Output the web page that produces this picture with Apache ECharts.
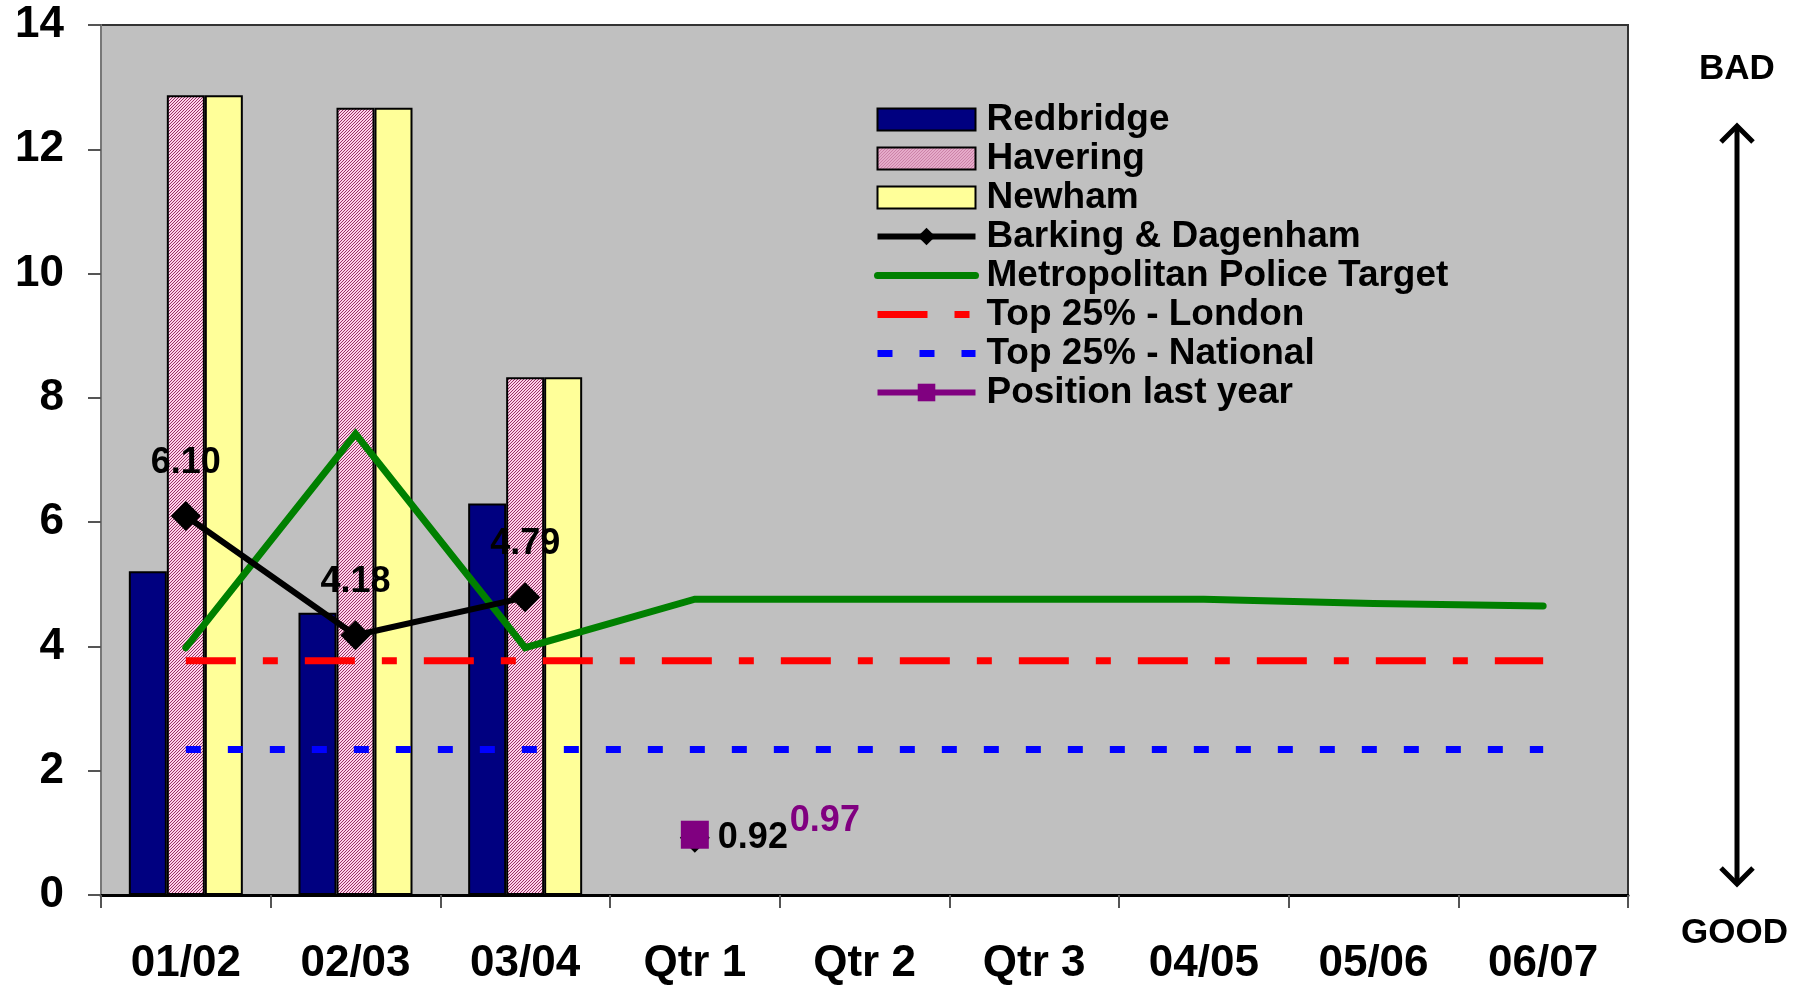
<!DOCTYPE html>
<html><head><meta charset="utf-8">
<script src="https://cdn.jsdelivr.net/npm/echarts@6/dist/echarts.min.js"></script>
<style>html,body{margin:0;padding:0;background:#fff}#c{width:1807px;height:986px}</style>
</head><body><div id="c"></div>
<script>
const categories = ['01/02','02/03','03/04','Qtr 1','Qtr 2','Qtr 3','04/05','05/06','06/07'];
const yTicks = [0, 14, 2];
const redbridge = [5.21, 4.54, 6.30, null, null, null, null, null, null];
const havering  = [12.87, 12.67, 8.33, null, null, null, null, null, null];
const newham    = [12.87, 12.67, 8.33, null, null, null, null, null, null];
const barkingDagenham = [6.10, 4.18, 4.79, null, null, null, null, null, null];
const barkingDagenhamQtr = [null, null, null, 0.92, null, null, null, null, null];
const metTarget = [3.98, 7.42, 3.98, 4.76, 4.76, 4.76, 4.76, 4.69, 4.65];
const top25London   = [3.77, 3.77, 3.77, 3.77, 3.77, 3.77, 3.77, 3.77, 3.77];
const top25National = [2.34, 2.34, 2.34, 2.34, 2.34, 2.34, 2.34, 2.34, 2.34];
const positionLastYear = [null, null, null, 0.97, null, null, null, null, null];

const FONT = "'Liberation Sans', Arial, sans-serif";

function hatch() {
  const c = document.createElement('canvas');
  c.width = 3; c.height = 3;
  const g = c.getContext('2d');
  g.fillStyle = '#ffd2ea'; g.fillRect(0, 0, 3, 3);
  g.fillStyle = '#993366';
  for (let y = 0; y < 3; y++) for (let x = 0; x < 3; x++) if ((x + y) % 3 === 2) g.fillRect(x, y, 1, 1);
  return c;
}
const hatchPattern = { image: hatch(), repeat: 'repeat' };

const LONDON_DASH = [50, 27, 15, 27];
const NATIONAL_DASH = [15, 27];

const chart = echarts.init(document.getElementById('c'), null, { renderer: 'canvas' });
const barBase = { type: 'bar', barWidth: 38, barGap: '0%', itemStyle: { borderColor: '#000', borderWidth: 2 } };

chart.setOption({
  animation: false,
  textStyle: { fontFamily: FONT },
  grid: { left: 101, right: 179, top: 25, bottom: 86, show: true, backgroundColor: '#c0c0c0', borderColor: '#333', borderWidth: 2 },
  legend: {
    orient: 'vertical', left: 874, top: 101, padding: 0,
    itemWidth: 98, itemHeight: 22, itemGap: 2, selectedMode: false,
    textStyle: { fontFamily: FONT, fontSize: 37, fontWeight: 'bold', color: '#000', lineHeight: 30, padding: [0, 0, 0, 6] },
    lineStyle: { width: 'inherit' },
    data: [
      { name: 'Redbridge', icon: 'rect' },
      { name: 'Havering', icon: 'rect' },
      { name: 'Newham', icon: 'rect' },
      { name: 'Barking & Dagenham', lineStyle: { width: 6 } },
      { name: 'Metropolitan Police Target', itemStyle: { opacity: 0 }, lineStyle: { width: 7, cap: 'round' } },
      { name: 'Top 25% - London', itemStyle: { opacity: 0 }, lineStyle: { width: 7, type: LONDON_DASH } },
      { name: 'Top 25% - National', itemStyle: { opacity: 0 }, lineStyle: { width: 7, type: NATIONAL_DASH } },
      { name: 'Position last year', lineStyle: { width: 6 } }
    ]
  },
  xAxis: {
    type: 'category', data: categories, boundaryGap: true,
    axisLine: { lineStyle: { color: '#000', width: 3 } },
    axisTick: { show: true, length: 13, lineStyle: { color: '#555', width: 2 } },
    axisLabel: { fontFamily: FONT, fontSize: 44, fontWeight: 'bold', color: '#000', margin: 47, interval: 0 },
    splitLine: { show: false }
  },
  yAxis: {
    type: 'value', min: yTicks[0], max: yTicks[1], interval: yTicks[2],
    axisLine: { show: true, lineStyle: { color: '#777', width: 2 } },
    axisTick: { show: true, length: 13, lineStyle: { color: '#555', width: 2 } },
    axisLabel: { fontFamily: FONT, fontSize: 44, fontWeight: 'bold', color: '#000', margin: 37 },
    splitLine: { show: false }
  },
  series: [
    Object.assign({}, barBase, { name: 'Redbridge', data: redbridge, itemStyle: { color: '#000080', borderColor: '#000', borderWidth: 2 } }),
    Object.assign({}, barBase, { name: 'Havering', data: havering, itemStyle: { color: hatchPattern, borderColor: '#000', borderWidth: 2 } }),
    Object.assign({}, barBase, { name: 'Newham', data: newham, itemStyle: { color: '#ffff99', borderColor: '#000', borderWidth: 2 } }),
    { name: 'Top 25% - London', type: 'line', data: top25London, symbol: 'none', z: 3,
      itemStyle: { color: '#ff0000' }, lineStyle: { color: '#ff0000', width: 7, type: LONDON_DASH, cap: 'butt' } },
    { name: 'Top 25% - National', type: 'line', data: top25National, symbol: 'none', z: 3,
      itemStyle: { color: '#0000ff' }, lineStyle: { color: '#0000ff', width: 7, type: NATIONAL_DASH, cap: 'butt' } },
    { name: 'Metropolitan Police Target', type: 'line', data: metTarget, symbol: 'none', z: 4,
      itemStyle: { color: '#008000' }, lineStyle: { color: '#008000', width: 7, cap: 'round', join: 'miter' } },
    { name: 'Barking & Dagenham', type: 'line', data: barkingDagenham, symbol: 'diamond', symbolSize: 30, z: 5,
      itemStyle: { color: '#000' }, lineStyle: { color: '#000', width: 6 },
      label: { show: true, position: 'top', distance: 20, fontFamily: FONT, fontSize: 36, fontWeight: 'bold', color: '#000',
        formatter: p => Number(p.value).toFixed(2) } },
    { name: 'Barking & Dagenham', type: 'line', data: barkingDagenhamQtr, symbol: 'diamond', symbolSize: 30, z: 5,
      itemStyle: { color: '#000' }, lineStyle: { color: '#000', width: 6 },
      label: { show: true, position: 'right', distance: 8, fontFamily: FONT, fontSize: 36, fontWeight: 'bold', color: '#000',
        formatter: p => Number(p.value).toFixed(2) } },
    { name: 'Position last year', type: 'line', data: positionLastYear, symbol: 'rect', symbolSize: 28, z: 6,
      itemStyle: { color: '#800080' }, lineStyle: { color: '#800080', width: 5 },
      label: { show: true, position: 'right', distance: 5, offset: [76, -14], fontFamily: FONT, fontSize: 36, fontWeight: 'bold', color: '#800080',
        formatter: p => Number(p.value).toFixed(2) } }
  ],
  graphic: [
    { type: 'text', left: 1737 - 38, top: 72 - 20, style: { text: 'BAD', font: "bold 35px 'Liberation Sans', Arial, sans-serif", fill: '#000' } },
    { type: 'text', left: 1737 - 56, top: 936 - 20, style: { text: 'GOOD', font: "bold 35px 'Liberation Sans', Arial, sans-serif", fill: '#000' } },
    { type: 'line', shape: { x1: 1737, y1: 126, x2: 1737, y2: 884 }, style: { stroke: '#000', lineWidth: 5 } },
    { type: 'polyline', shape: { points: [[1721, 142], [1737, 126], [1753, 142]] }, style: { stroke: '#000', lineWidth: 5, fill: null } },
    { type: 'polyline', shape: { points: [[1721, 868], [1737, 884], [1753, 868]] }, style: { stroke: '#000', lineWidth: 5, fill: null } }
  ]
});
</script>
</body></html>
